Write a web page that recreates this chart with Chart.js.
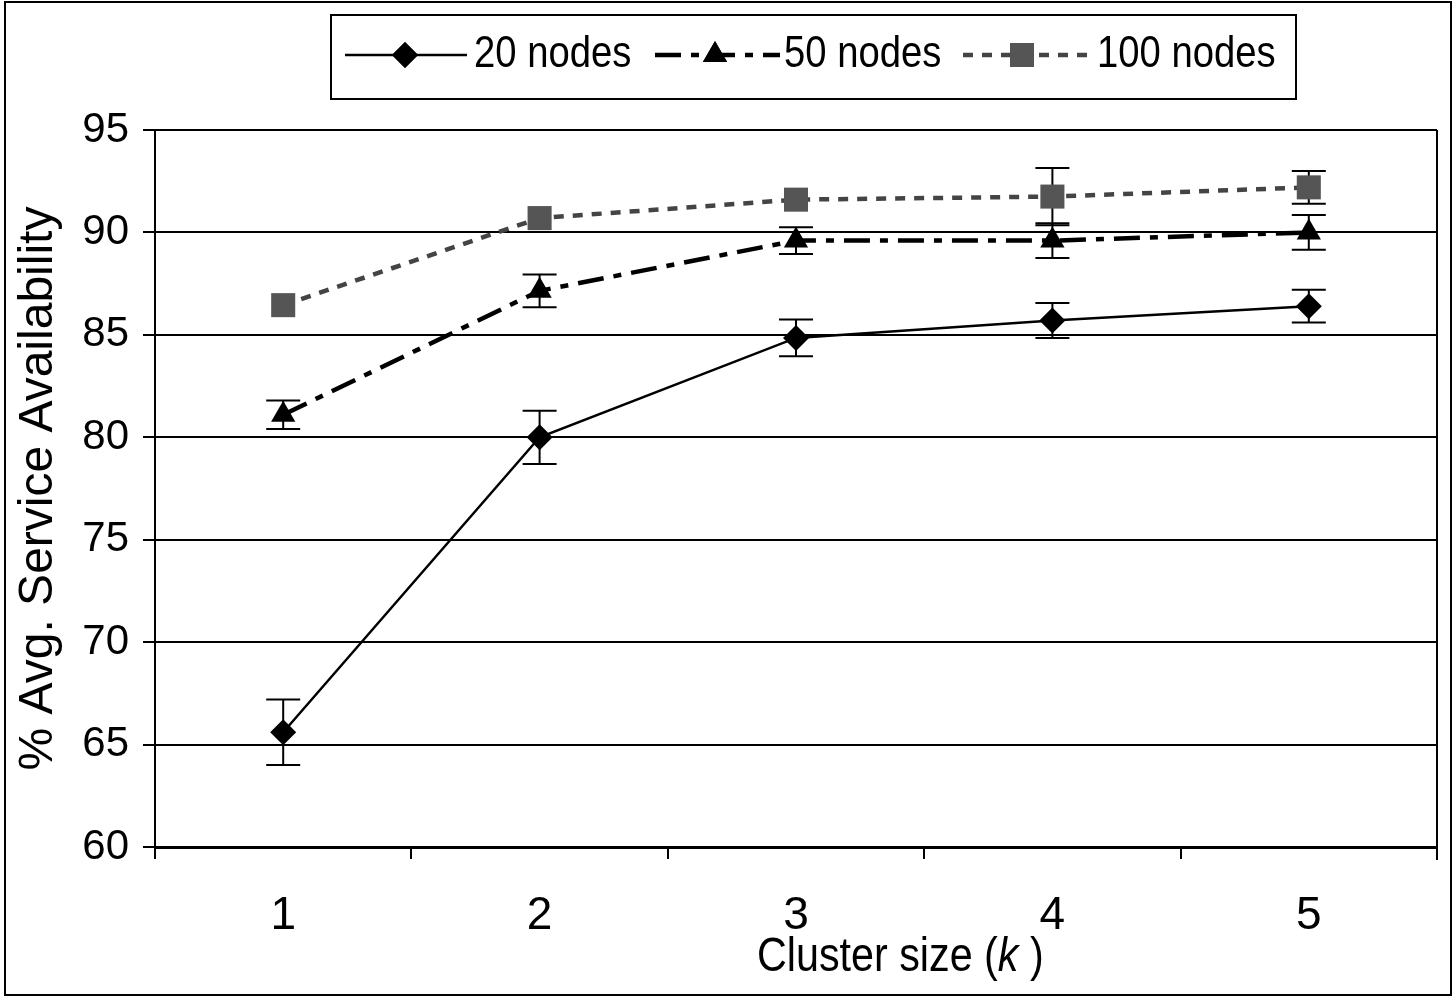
<!DOCTYPE html>
<html>
<head>
<meta charset="utf-8">
<script src="https://cdn.jsdelivr.net/npm/chart.js@4.4.1/dist/chart.umd.min.js"></script>
<style>
    html, body { margin: 0; padding: 0; background: #fff; }
    #wrap { width: 1454px; height: 998px; }
</style>
</head>
<body>
<div id="wrap"><canvas id="chart" width="1454" height="998"></canvas></div>
<script>
const categories = ['1', '2', '3', '4', '5']
const nodes20    = [65.6, 80.0, 84.85, 85.7, 86.4]
const err20      = [1.6, 1.3, 0.9, 0.85, 0.8]
const nodes50    = [81.1, 87.15, 89.6, 89.6, 90.0]
const err50      = [0.7, 0.8, 0.65, 0.85, 0.85]
const nodes100   = [86.45, 90.7, 91.6, 91.75, 92.2]
const err100     = [0, 0, 0, 1.4, 0.8]
const legendText = ['20 nodes', '50 nodes', '100 nodes']

const SANS = '"Liberation Sans", Arial, sans-serif'

const errors = [err20, err50, err100]

// narrow text: the original uses a condensed face, squeeze it horizontally
function narrowText(ctx, text, x, y, squeeze) {
    ctx.save()
    ctx.translate(x, y)
    ctx.scale(squeeze, 1)
    ctx.fillText(text, 0, 0)
    ctx.restore()
    return ctx.measureText(text).width * squeeze
}

// error bars, drawn under the markers
const errorBars = {
    id: 'errorBars',
    beforeDatasetsDraw(chart) {
        const ctx = chart.ctx
        const y   = chart.scales.y
        ctx.save()
        ctx.strokeStyle = '#000'
        ctx.lineWidth   = 2
        chart.data.datasets.forEach((ds, i) => {
            const meta = chart.getDatasetMeta(i)
            meta.data.forEach((pt, j) => {
                const e = errors[i][j]
                if (!e) return
                const top = y.getPixelForValue(ds.data[j] + e)
                const bot = y.getPixelForValue(ds.data[j] - e)
                ctx.beginPath()
                ctx.moveTo(pt.x, top)
                ctx.lineTo(pt.x, bot)
                ctx.moveTo(pt.x - 17, top)
                ctx.lineTo(pt.x + 17, top)
                ctx.moveTo(pt.x - 17, bot)
                ctx.lineTo(pt.x + 17, bot)
                ctx.stroke()
            })
        })
        ctx.restore()
    }
}

// frame, legend box and x title
const decorations = {
    id: 'decorations',
    afterDraw(chart) {
        const ctx  = chart.ctx
        const area = chart.chartArea
        ctx.save()

        // right edge of plot
        ctx.strokeStyle = '#000'
        ctx.lineWidth   = 2
        ctx.beginPath()
        ctx.moveTo(area.right, area.top)
        ctx.lineTo(area.right, area.bottom + 13)
        ctx.stroke()

        // outer frame
        ctx.strokeRect(5, 2, 1446, 993)

        // legend box
        ctx.strokeRect(331, 15, 965, 84)

        const entries = [
            {x0: 345, x1: 467, mx: 405, tx: 474},
            {x0: 655, x1: 780, mx: 715, tx: 784},
            {x0: 963, x1: 1090, mx: 1022, tx: 1097},
        ]
        const ly = 55
        chart.data.datasets.forEach((ds, i) => {
            const e = entries[i]
            ctx.save()
            ctx.strokeStyle = ds.borderColor
            ctx.lineWidth   = ds.borderWidth
            ctx.setLineDash(ds.borderDash || [])
            ctx.beginPath()
            ctx.moveTo(e.x0, ly)
            ctx.lineTo(e.x1, ly)
            ctx.stroke()
            ctx.restore()
            Chart.helpers.drawPoint(ctx, {
                pointStyle : ds.pointStyle,
                radius     : ds.pointRadius,
                rotation   : 0,
                borderWidth: 0
            }, e.mx, ly)
            ctx.fillStyle = ds.pointBackgroundColor
            ctx.fill()
            ctx.fillStyle    = '#000'
            ctx.font         = '45px ' + SANS
            ctx.textAlign    = 'left'
            ctx.textBaseline = 'middle'
            narrowText(ctx, legendText[i], e.tx, ly, 0.85)
        })

        // x axis title with italic k
        ctx.fillStyle    = '#000'
        ctx.textBaseline = 'middle'
        ctx.textAlign    = 'left'
        let x = 757
        const ty = 958
        const sq = 0.86
        ctx.font = '48px ' + SANS
        x += narrowText(ctx, 'Cluster size (', x, ty, sq)
        ctx.font = 'italic 48px ' + SANS
        x += narrowText(ctx, 'k', x, ty, sq)
        ctx.font = '48px ' + SANS
        x += ctx.measureText(' ').width * sq
        narrowText(ctx, ')', x, ty, sq)

        ctx.restore()
    }
}

new Chart(document.getElementById('chart'), {
    type   : 'line',
    data   : {
        labels  : categories,
        datasets: [
            {
                label               : legendText[0],
                data                : nodes20,
                borderColor         : '#000',
                borderWidth         : 2.5,
                pointStyle          : 'rectRot',
                pointRadius         : 13,
                pointBackgroundColor: '#000',
                pointBorderWidth    : 0,
            },
            {
                label               : legendText[1],
                data                : nodes50,
                borderColor         : '#000',
                borderWidth         : 4.5,
                borderDash          : [26, 10, 8, 10],
                pointStyle          : 'triangle',
                pointRadius         : 14,
                pointBackgroundColor: '#000',
                pointBorderWidth    : 0,
            },
            {
                label               : legendText[2],
                data                : nodes100,
                borderColor         : '#444',
                borderWidth         : 4.5,
                borderDash          : [10, 9],
                pointStyle          : 'rect',
                pointRadius         : 17,
                pointBackgroundColor: '#555',
                pointBorderWidth    : 0,
            }
        ]
    },
    options: {
        responsive: false,
        animation : false,
        layout    : {padding: {left: 0, right: 13, top: 130, bottom: 0}},
        plugins   : {
            legend : {display: false},
            tooltip: {enabled: false}
        },
        elements  : {line: {tension: 0}},
        scales    : {
            x: {
                offset: true,
                grid  : {
                    offset         : true,
                    drawOnChartArea: false,
                    drawTicks      : true,
                    tickLength     : 12,
                    color          : '#000',
                    lineWidth      : 2
                },
                border: {display: true, color: '#000', width: 3},
                ticks : {
                    color  : '#000',
                    padding: 30,
                    font   : {family: SANS, size: 46}
                },
                afterFit(scale) {
                    scale.height = 151
                }
            },
            y: {
                min   : 60,
                max   : 95,
                grid  : {
                    color     : '#000',
                    lineWidth : 2,
                    tickLength: 12
                },
                border: {display: true, color: '#000', width: 2},
                ticks : {
                    stepSize: 5,
                    color   : '#000',
                    padding : 14,
                    font    : {family: SANS, size: 42}
                },
                title : {
                    display: true,
                    text   : '% Avg. Service Availability',
                    color  : '#000',
                    padding: {top: 10, bottom: 0},
                    font   : {family: SANS, size: 48}
                },
                afterFit(scale) {
                    scale.width = 155
                }
            }
        }
    },
    plugins: [errorBars, decorations]
})
</script>
</body>
</html>
